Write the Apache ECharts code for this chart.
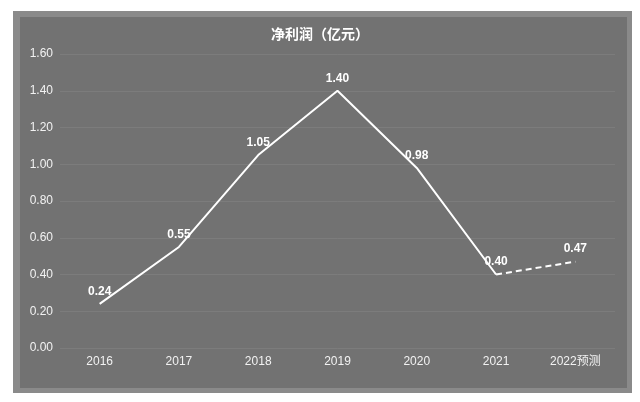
<!DOCTYPE html>
<html><head><meta charset="utf-8">
<script src="https://cdn.jsdelivr.net/npm/echarts@6/dist/echarts.min.js"></script>
<style>
html,body{margin:0;padding:0;background:#fff;}
#frame{position:absolute;left:13px;top:11px;width:619px;height:382px;background:#8a8a8a;}
#c{position:absolute;left:0;top:0;width:640px;height:402px;}
#inner{position:absolute;left:20px;top:17px;width:607px;height:371px;background:#727272;}
</style></head>
<body>
<div id="frame"></div><div id="inner"></div>
<div id="c"></div>
<script>
var categories = ['2016','2017','2018','2019','2020','2021','2022预测'];
var actualValues = [0.24, 0.55, 1.05, 1.40, 0.98, 0.40, null];
var forecastValues = [null, null, null, null, null, 0.40, 0.47];
var yTicks = [0, 0.2, 0.4, 0.6, 0.8, 1.0, 1.2, 1.4, 1.6];

var chart = echarts.init(document.getElementById('c'));
var font = '"Liberation Sans", Arial, "Noto Sans CJK SC", sans-serif';
chart.setOption({
  backgroundColor: 'transparent',
  animation: false,
  title: {
    text: '净利润（亿元）', left: 'center', top: 22,
    textStyle: {color: '#ffffff', fontSize: 14, fontWeight: 'bold', fontFamily: '"Noto Sans CJK SC", sans-serif'}
  },
  grid: {left: 60, right: 25, top: 54, bottom: 54},
  xAxis: {
    type: 'category', data: categories, boundaryGap: true,
    axisLine: {show: false}, axisTick: {show: false},
    axisLabel: {color: '#f2f2f2', fontSize: 12, margin: 8, fontFamily: font}
  },
  yAxis: {
    type: 'value', min: yTicks[0], max: yTicks[yTicks.length - 1], interval: 0.2,
    axisLine: {show: false}, axisTick: {show: false},
    axisLabel: {color: '#f2f2f2', fontSize: 12, margin: 7, fontFamily: font,
      formatter: function (v) { return v.toFixed(2); }},
    splitLine: {lineStyle: {color: '#7c7c7c', width: 1}}
  },
  series: [
    {
      type: 'line', data: actualValues, symbol: 'circle', symbolSize: 1, showSymbol: true,
      itemStyle: {color: 'rgba(255,255,255,0)'},
      lineStyle: {color: '#ffffff', width: 2},
      label: {show: true, position: 'top', distance: 6, color: '#ffffff', fontSize: 12, fontWeight: 'bold', fontFamily: font,
        formatter: function (p) { return p.value == null ? '' : Number(p.value).toFixed(2); }}
    },
    {
      type: 'line', data: forecastValues, symbol: 'circle', symbolSize: 1, showSymbol: true,
      itemStyle: {color: 'rgba(255,255,255,0)'},
      lineStyle: {color: '#ffffff', width: 2, type: [6, 4]},
      label: {show: true, position: 'top', distance: 6, color: '#ffffff', fontSize: 12, fontWeight: 'bold', fontFamily: font,
        formatter: function (p) { return p.dataIndex === 6 ? Number(p.value).toFixed(2) : ''; }}
    }
  ]
});
</script>
</body></html>
